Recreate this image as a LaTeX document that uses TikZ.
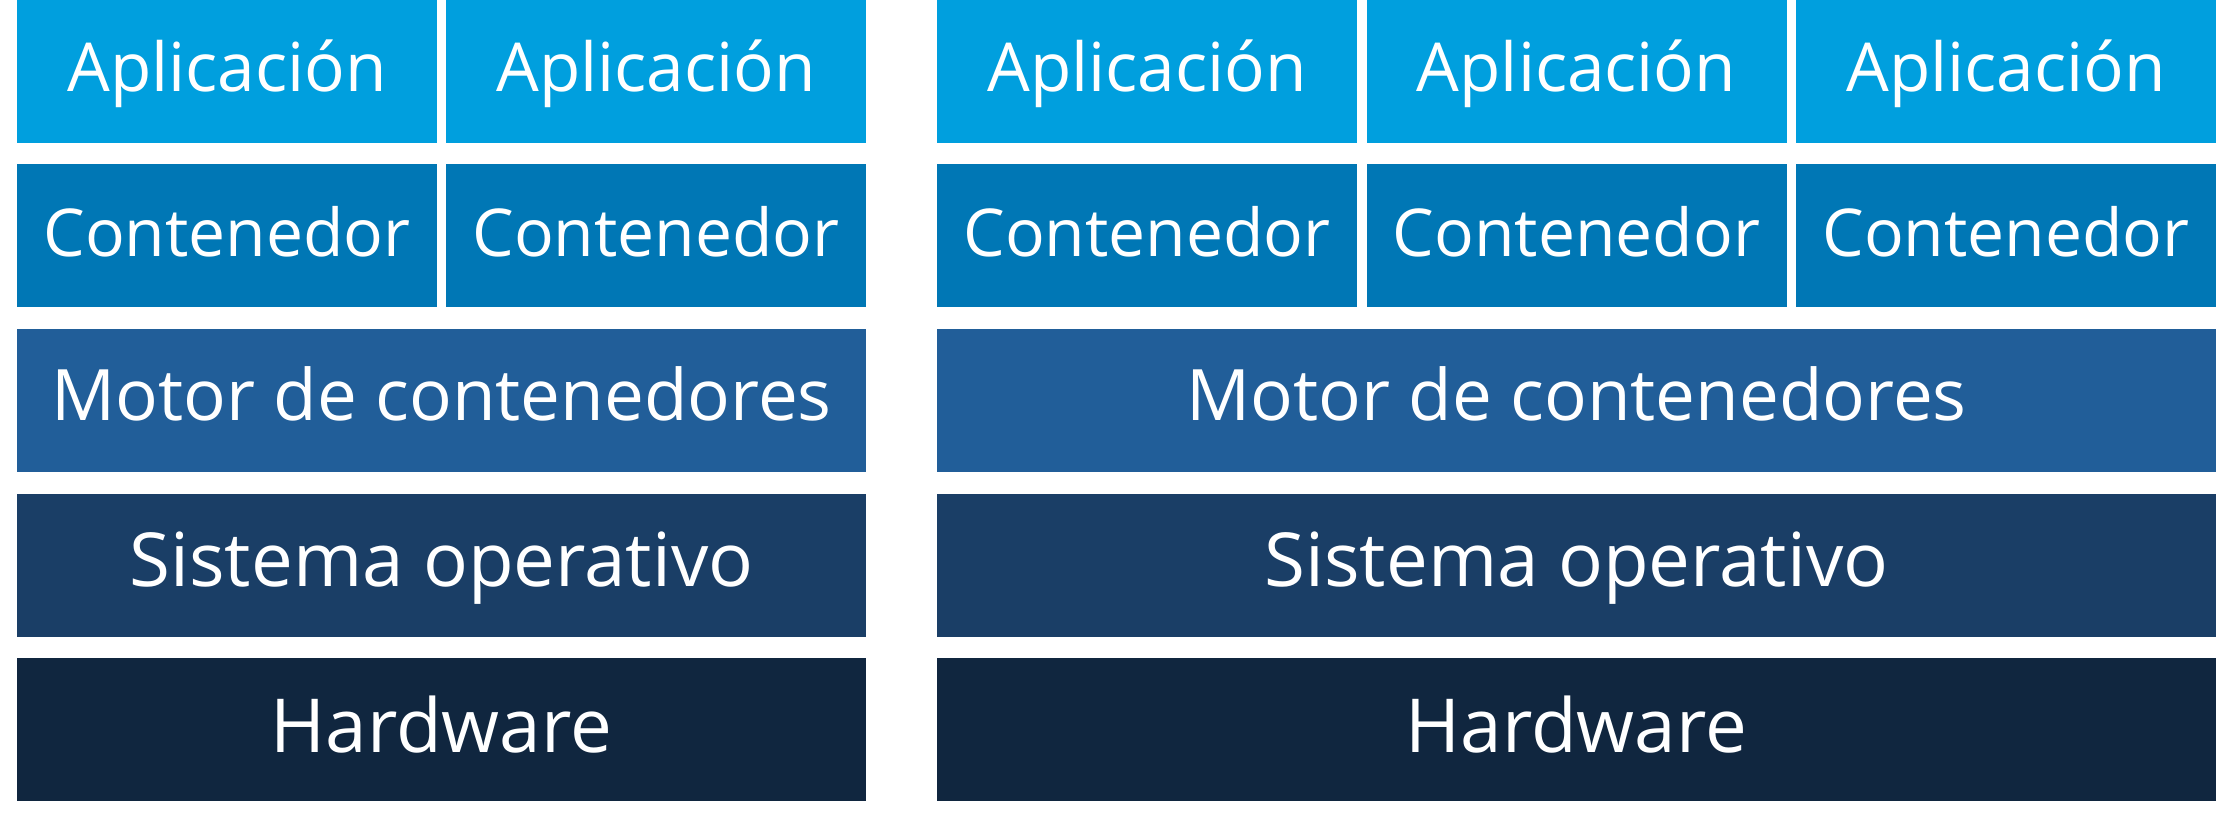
\documentclass[tikz,border=0pt]{standalone}
\usepackage{fontspec}
\setmainfont{Open Sans}
\definecolor{appc}{HTML}{009FDE}
\definecolor{contc}{HTML}{0077B5}
\definecolor{motc}{HTML}{215E99}
\definecolor{soc}{HTML}{1A3E66}
\definecolor{hwc}{HTML}{10263F}
\tikzset{
  layer/.style={rectangle, inner sep=0pt, text=white, text depth=0pt, minimum height=143pt},
  small/.style={layer, minimum width=420pt},
  wideL/.style={layer, minimum width=849pt},
  wideR/.style={layer, minimum width=1279pt},
  appl/.style={small, fill=appc, font=\fontsize{67.5}{70}\selectfont, text height=40pt},
  contl/.style={small, fill=contc, font=\fontsize{66}{70}\selectfont, text height=41pt},
  motl/.style={fill=motc, font=\fontsize{71}{74}\selectfont, text height=41pt},
  sol/.style={fill=soc, font=\fontsize{74.5}{78}\selectfont, text height=43pt},
  hwl/.style={fill=hwc, font=\fontsize{74.5}{78}\selectfont, text height=46pt},
}
\begin{document}
\begin{tikzpicture}[x=1pt,y=-1pt]
\useasboundingbox[fill=white] (0,0) rectangle (2232,823);
% left stack
\node[appl] (la1) at (227,71.5) {Aplicación};
\node[appl] (la2) at (656,71.5) {Aplicación};
\node[contl] (lc1) at (227,235.5) {Contenedor};
\node[contl] (lc2) at (656,235.5) {Contenedor};
\node[wideL, motl] (lm) at (441.5,400) {Motor de contenedores};
\node[wideL, sol] (ls) at (441.5,565) {Sistema operativo};
\node[wideL, hwl] (lh) at (441.5,729.5) {Hardware};
% right stack
\node[appl] (ra1) at (1147,71.5) {Aplicación};
\node[appl] (ra2) at (1576.5,71.5) {Aplicación};
\node[appl] (ra3) at (2006,71.5) {Aplicación};
\node[contl] (rc1) at (1147,235.5) {Contenedor};
\node[contl] (rc2) at (1576.5,235.5) {Contenedor};
\node[contl] (rc3) at (2006,235.5) {Contenedor};
\node[wideR, motl] (rm) at (1576.5,400) {Motor de contenedores};
\node[wideR, sol] (rs) at (1576.5,565) {Sistema operativo};
\node[wideR, hwl] (rh) at (1576.5,729.5) {Hardware};
\end{tikzpicture}
\end{document}
